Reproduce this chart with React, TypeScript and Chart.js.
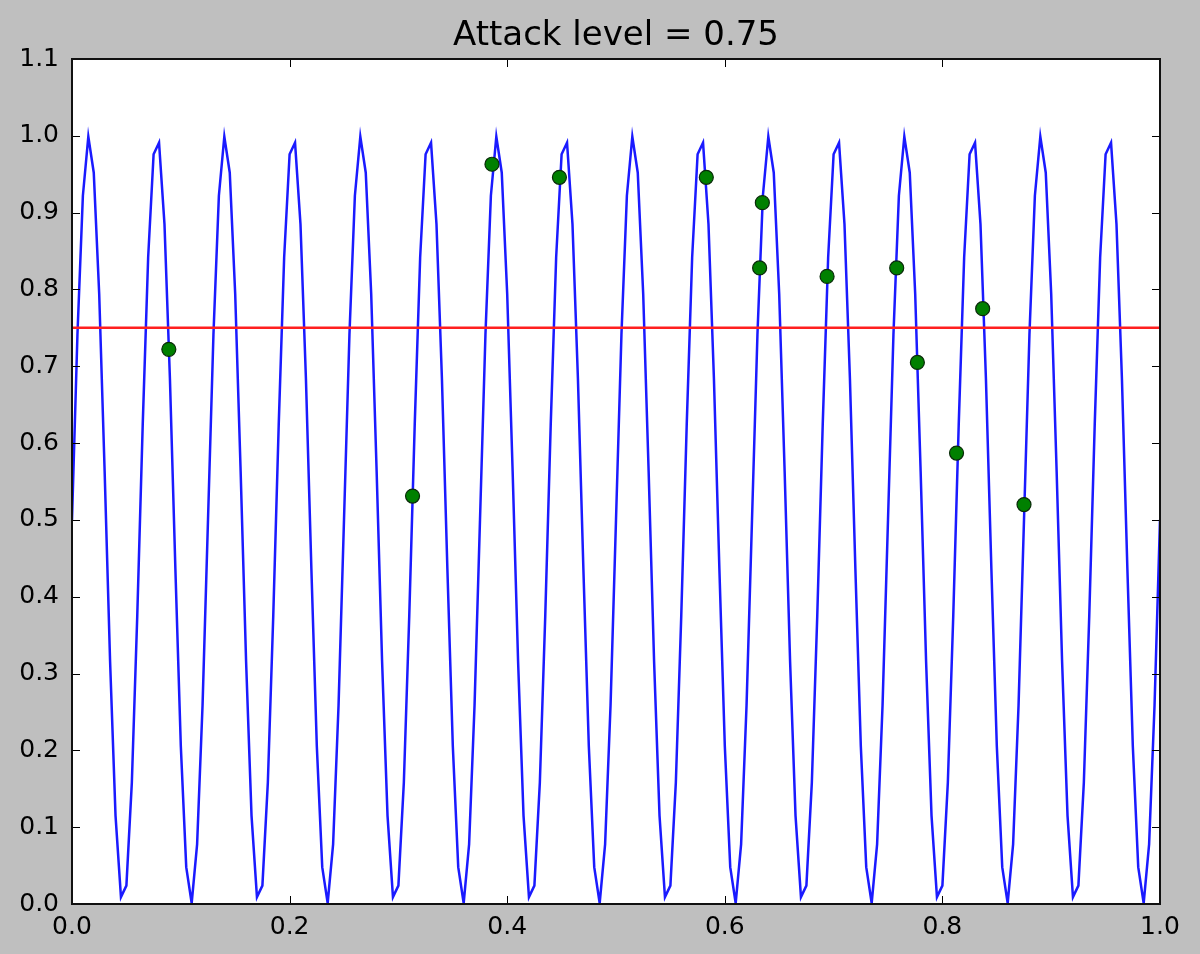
import React, { useEffect, useRef } from "react";
import { Chart, registerables } from "chart.js";

Chart.register(...registerables);

const titleText = "Attack level = 0.75";

// sample positions of the blue signal
const signalX = [
  0, 0.005, 0.01, 0.015, 0.02, 0.025, 0.03, 0.035, 0.04, 0.045, 0.05, 0.055, 0.06, 0.065, 0.07, 0.075, 0.08, 0.085, 0.09, 0.095,
  0.1, 0.105, 0.11, 0.115, 0.12, 0.125, 0.13, 0.135, 0.14, 0.145, 0.15, 0.155, 0.16, 0.165, 0.17, 0.175, 0.18, 0.185, 0.19, 0.195,
  0.2, 0.205, 0.21, 0.215, 0.22, 0.225, 0.23, 0.235, 0.24, 0.245, 0.25, 0.255, 0.26, 0.265, 0.27, 0.275, 0.28, 0.285, 0.29, 0.295,
  0.3, 0.305, 0.31, 0.315, 0.32, 0.325, 0.33, 0.335, 0.34, 0.345, 0.35, 0.355, 0.36, 0.365, 0.37, 0.375, 0.38, 0.385, 0.39, 0.395,
  0.4, 0.405, 0.41, 0.415, 0.42, 0.425, 0.43, 0.435, 0.44, 0.445, 0.45, 0.455, 0.46, 0.465, 0.47, 0.475, 0.48, 0.485, 0.49, 0.495,
  0.5, 0.505, 0.51, 0.515, 0.52, 0.525, 0.53, 0.535, 0.54, 0.545, 0.55, 0.555, 0.56, 0.565, 0.57, 0.575, 0.58, 0.585, 0.59, 0.595,
  0.6, 0.605, 0.61, 0.615, 0.62, 0.625, 0.63, 0.635, 0.64, 0.645, 0.65, 0.655, 0.66, 0.665, 0.67, 0.675, 0.68, 0.685, 0.69, 0.695,
  0.7, 0.705, 0.71, 0.715, 0.72, 0.725, 0.73, 0.735, 0.74, 0.745, 0.75, 0.755, 0.76, 0.765, 0.77, 0.775, 0.78, 0.785, 0.79, 0.795,
  0.8, 0.805, 0.81, 0.815, 0.82, 0.825, 0.83, 0.835, 0.84, 0.845, 0.85, 0.855, 0.86, 0.865, 0.87, 0.875, 0.88, 0.885, 0.89, 0.895,
  0.9, 0.905, 0.91, 0.915, 0.92, 0.925, 0.93, 0.935, 0.94, 0.945, 0.95, 0.955, 0.96, 0.965, 0.97, 0.975, 0.98, 0.985, 0.99, 0.995,
  1,
];

// blue signal values at those positions
const signalY = [
  0.5, 0.741, 0.922, 0.999, 0.952, 0.794, 0.563, 0.316, 0.115, 0.009, 0.024, 0.158, 0.376, 0.624, 0.842, 0.976, 0.991, 0.885, 0.684, 0.437, 0.206, 0.048, 0.001, 0.078, 0.259,
  0.5, 0.741, 0.922, 0.999, 0.952, 0.794, 0.563, 0.316, 0.115, 0.009, 0.024, 0.158, 0.376, 0.624, 0.842, 0.976, 0.991, 0.885, 0.684, 0.437, 0.206, 0.048, 0.001, 0.078, 0.259,
  0.5, 0.741, 0.922, 0.999, 0.952, 0.794, 0.563, 0.316, 0.115, 0.009, 0.024, 0.158, 0.376, 0.624, 0.842, 0.976, 0.991, 0.885, 0.684, 0.437, 0.206, 0.048, 0.001, 0.078, 0.259,
  0.5, 0.741, 0.922, 0.999, 0.952, 0.794, 0.563, 0.316, 0.115, 0.009, 0.024, 0.158, 0.376, 0.624, 0.842, 0.976, 0.991, 0.885, 0.684, 0.437, 0.206, 0.048, 0.001, 0.078, 0.259,
  0.5, 0.741, 0.922, 0.999, 0.952, 0.794, 0.563, 0.316, 0.115, 0.009, 0.024, 0.158, 0.376, 0.624, 0.842, 0.976, 0.991, 0.885, 0.684, 0.437, 0.206, 0.048, 0.001, 0.078, 0.259,
  0.5, 0.741, 0.922, 0.999, 0.952, 0.794, 0.563, 0.316, 0.115, 0.009, 0.024, 0.158, 0.376, 0.624, 0.842, 0.976, 0.991, 0.885, 0.684, 0.437, 0.206, 0.048, 0.001, 0.078, 0.259,
  0.5, 0.741, 0.922, 0.999, 0.952, 0.794, 0.563, 0.316, 0.115, 0.009, 0.024, 0.158, 0.376, 0.624, 0.842, 0.976, 0.991, 0.885, 0.684, 0.437, 0.206, 0.048, 0.001, 0.078, 0.259,
  0.5, 0.741, 0.922, 0.999, 0.952, 0.794, 0.563, 0.316, 0.115, 0.009, 0.024, 0.158, 0.376, 0.624, 0.842, 0.976, 0.991, 0.885, 0.684, 0.437, 0.206, 0.048, 0.001, 0.078, 0.259,
  0.5,
];

// attack threshold line
const thresholdX = [0, 1];
const thresholdY = [0.75, 0.75];

// green attack points
const attackX = [0.089, 0.313, 0.386, 0.448, 0.583, 0.6345, 0.632, 0.694, 0.758, 0.777, 0.813, 0.837, 0.875];
const attackY = [0.722, 0.531, 0.963, 0.946, 0.946, 0.913, 0.828, 0.817, 0.828, 0.705, 0.587, 0.775, 0.52];

// axis ranges / ticks
const xMin = 0;
const xMax = 1;
const xStep = 0.2;
const yMin = 0;
const yMax = 1.1;
const yStep = 0.1;

const FONT = "'DejaVu Sans', 'Bitstream Vera Sans', sans-serif";

const framePlugin = {
  id: "mplFrame",
  afterDatasetsDraw(chart: any) {
    const { ctx, chartArea } = chart;
    const { left, right, top, bottom } = chartArea;
    const xs = chart.scales.x;
    const ys = chart.scales.y;
    ctx.save();
    ctx.strokeStyle = "#000000";
    ctx.lineWidth = 1;
    const tl = 8;
    ctx.beginPath();
    xs.ticks.forEach((t: any) => {
      const px = Math.round(xs.getPixelForValue(t.value)) + 0.5;
      ctx.moveTo(px, bottom);
      ctx.lineTo(px, bottom - tl);
      ctx.moveTo(px, top);
      ctx.lineTo(px, top + tl);
    });
    ys.ticks.forEach((t: any) => {
      const py = Math.round(ys.getPixelForValue(t.value)) + 0.5;
      ctx.moveTo(left, py);
      ctx.lineTo(left + tl, py);
      ctx.moveTo(right, py);
      ctx.lineTo(right - tl, py);
    });
    ctx.stroke();
    ctx.lineWidth = 2;
    ctx.strokeStyle = "#111111";
    ctx.strokeRect(left, top, right - left, bottom - top);
    ctx.restore();
  },
  afterDraw(chart: any) {
    const { ctx, chartArea } = chart;
    ctx.save();
    ctx.fillStyle = "#000000";
    ctx.font = `34px ${FONT}`;
    ctx.textAlign = "center";
    ctx.textBaseline = "alphabetic";
    ctx.fillText(titleText, (chartArea.left + chartArea.right) / 2, 45);
    ctx.restore();
  },
};

const bgPlugin = {
  id: "plotBg",
  beforeDatasetsDraw(chart: any) {
    const { ctx, chartArea } = chart;
    ctx.save();
    ctx.fillStyle = "#ffffff";
    ctx.fillRect(chartArea.left, chartArea.top, chartArea.right - chartArea.left, chartArea.bottom - chartArea.top);
    ctx.restore();
  },
};

export default function App() {
  const ref = useRef<HTMLCanvasElement | null>(null);

  useEffect(() => {
    if (!ref.current) return;
    const signal = signalX.map((x, i) => ({ x, y: signalY[i] }));
    const threshold = thresholdX.map((x, i) => ({ x, y: thresholdY[i] }));
    const attacks = attackX.map((x, i) => ({ x, y: attackY[i] }));

    const chart = new Chart(ref.current, {
      type: "line",
      data: {
        datasets: [
          {
            type: "scatter",
            data: attacks,
            backgroundColor: "#008000",
            borderColor: "#0a2a0a",
            borderWidth: 1.2,
            pointRadius: 7,
            showLine: false,
            order: 0,
          } as any,
          {
            data: threshold,
            borderColor: "#ff2020",
            borderWidth: 2.5,
            pointRadius: 0,
            fill: false,
            order: 1,
          },
          {
            data: signal,
            borderColor: "#1a1aff",
            borderWidth: 2.5,
            pointRadius: 0,
            tension: 0,
            fill: false,
            order: 2,
          },
        ],
      },
      options: {
        animation: false,
        responsive: false,
        devicePixelRatio: 1,
        layout: { padding: { top: 59, right: 40, left: 0, bottom: 0 } },
        plugins: {
          legend: { display: false },
          tooltip: { enabled: false },
          title: { display: false },
        },
        scales: {
          x: {
            type: "linear",
            min: xMin,
            max: xMax,
            grid: { display: false, drawTicks: false },
            border: { display: false },
            ticks: {
              stepSize: xStep,
              autoSkip: false,
              maxRotation: 0,
              padding: 8,
              color: "#000000",
              font: { family: FONT, size: 25 },
              callback: (v: any) => Number(v).toFixed(1),
            },
            afterFit: (s: any) => {
              s.height = 50;
            },
          },
          y: {
            type: "linear",
            min: yMin,
            max: yMax,
            grid: { display: false, drawTicks: false },
            border: { display: false },
            ticks: {
              stepSize: yStep,
              autoSkip: false,
              padding: 13,
              color: "#000000",
              font: { family: FONT, size: 25 },
              callback: (v: any) => Number(v).toFixed(1),
            },
            afterFit: (s: any) => {
              s.width = 72;
            },
          },
        },
      },
      plugins: [bgPlugin, framePlugin],
    });
    return () => chart.destroy();
  }, []);

  return (
    <div
      style={{
        position: "fixed",
        left: 0,
        top: 0,
        width: 1200,
        height: 954,
        background: "#bfbfbf",
      }}
    >
      <canvas ref={ref} width={1200} height={954} style={{ display: "block" }} />
    </div>
  );
}
